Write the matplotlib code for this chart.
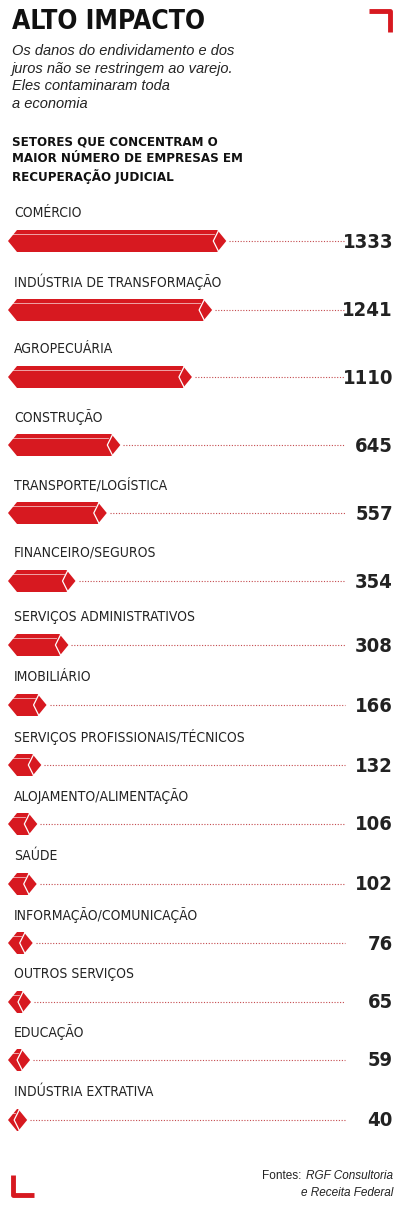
import matplotlib
matplotlib.use("Agg")
import matplotlib.pyplot as plt
from matplotlib.patches import Polygon

categories = ["COMÉRCIO", "INDÚSTRIA DE TRANSFORMAÇÃO", "AGROPECUÁRIA", "CONSTRUÇÃO",
              "TRANSPORTE/LOGÍSTICA", "FINANCEIRO/SEGUROS", "SERVIÇOS ADMINISTRATIVOS",
              "IMOBILIÁRIO", "SERVIÇOS PROFISSIONAIS/TÉCNICOS", "ALOJAMENTO/ALIMENTAÇÃO",
              "SAÚDE", "INFORMAÇÃO/COMUNICAÇÃO", "OUTROS SERVIÇOS", "EDUCAÇÃO",
              "INDÚSTRIA EXTRATIVA"]
values = [1333, 1241, 1110, 645, 557, 354, 308, 166, 132, 106, 102, 76, 65, 59, 40]
row_y = [241, 310, 377, 445, 513, 581, 645, 705, 765, 824, 884, 943, 1002, 1060, 1120]

RED = '#d71920'
W, H = 400, 1208
fig = plt.figure(figsize=(4, 12.08), dpi=100)
ax = fig.add_axes([0, 0, 1, 1])
s = 0.154          # pixels per unit
x0px = 21.0        # pixel of value 0
k = 1 / s          # data units per pixel
ax.set_xlim(-x0px * k, (W - x0px) * k)
ax.set_ylim(H, 0)
ax.axis('off')

def px(p):
    return (p - x0px) * k

base = px(8)
COND = dict(family='DejaVu Sans', fontstretch='condensed')
h = 22
t = 9 * k
for cat, v, c in zip(categories, values, row_y):
    L = v
    poly = [(base, c), (base + t, c - h / 2), (L - t, c - h / 2), (L, c), (L - t, c + h / 2), (base + t, c + h / 2)]
    ax.add_patch(Polygon(poly, closed=True, facecolor=RED, edgecolor='none'))
    cx = L - t
    ax.plot([base + 4 * k, cx - 3 * k], [c - h / 2 + 4, c - h / 2 + 4], color='white', lw=0.6, alpha=0.7)
    ax.plot([cx + 1 * k, cx - 4 * k, cx + 1 * k], [c - h / 2 + 1, c, c + h / 2 - 1], color='white', lw=0.9)
    ax.plot([L + 3 * k, px(345)], [c, c], color='#c44a4e', lw=0.8, ls=(0, (1, 1.5)))
    ax.text(px(393), c + 1, str(v), ha='right', va='center', fontsize=14.5, fontweight='bold',
            color='#222222', **COND)
    ax.text(px(14), c - 28, cat, ha='left', va='center', fontsize=10, color='#222222', **COND)

ax.text(px(12), 22, "ALTO IMPACTO", fontsize=19, fontweight='bold', va='center', color='#111111', **COND)
for i, line in enumerate(["Os danos do endividamento e dos", "juros não se restringem ao varejo.",
                          "Eles contaminaram toda", "a economia"]):
    ax.text(px(12), 51 + 17.5 * i, line, fontsize=10.5, style='italic', family=['Liberation Sans', 'DejaVu Sans'],
            va='center', color='#222222')
for i, line in enumerate(["SETORES QUE CONCENTRAM O", "MAIOR NÚMERO DE EMPRESAS EM", "RECUPERAÇÃO JUDICIAL"]):
    ax.text(px(12), 142 + 17 * i, line, fontsize=9.5, fontweight='bold', va='center', color='#111111', **COND)

ax.plot([px(369), px(390), px(390)], [11, 11, 32], color=RED, lw=3.5, solid_capstyle='butt')
ax.plot([px(13), px(13), px(34)], [1175, 1195, 1195], color=RED, lw=3.5, solid_capstyle='butt')

ax.text(px(393), 1176, "RGF Consultoria", ha='right', va='center', fontsize=8.5, style='italic',
        family=['Liberation Sans', 'DejaVu Sans'], color='#222222')
ax.text(px(301), 1176, "Fontes:", ha='right', va='center', fontsize=8.5,
        family=['Liberation Sans', 'DejaVu Sans'], color='#222222')
ax.text(px(393), 1193, "e Receita Federal", ha='right', va='center', fontsize=8.5, style='italic',
        family=['Liberation Sans', 'DejaVu Sans'], color='#222222')
fig.savefig("out.png", dpi=100, facecolor='white')
